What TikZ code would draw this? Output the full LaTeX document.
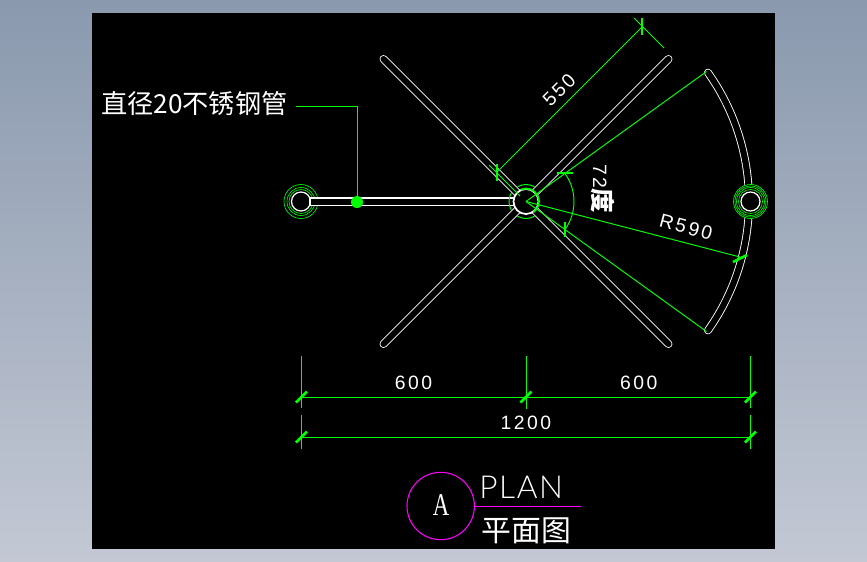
\documentclass[tikz,border=0pt]{standalone}
\usepackage{fontspec}
\usetikzlibrary{calc}
\setmainfont{Liberation Sans}
\newfontfamily\cjk{Noto Sans CJK SC}
\newfontfamily\dimfont[LetterSpace=13]{Liberation Sans}
\newfontfamily\planfont[LetterSpace=5]{Lato Light}
\newfontfamily\capfont{Liberation Serif}
\definecolor{cadgreen}{RGB}{0,255,0}
\definecolor{cadpink}{RGB}{255,0,255}
\definecolor{bgtop}{RGB}{138,153,174}
\definecolor{bgbottom}{RGB}{195,200,212}
\tikzset{
	cadline/.style={cadgreen,line width=0.55pt},
	cadring/.style={cadgreen,line width=0.35pt},
	tickmark/.style={cadgreen,line width=1.5pt},
	tube/.style={white,line width=0.5pt,double=black,double distance=3.5pt,line cap=round},
	dimtext/.style={white,font=\fontsize{11}{12}\selectfont\dimfont}
}
\begin{document}
\begin{tikzpicture}[x=0.02cm,y=0.02cm]
	\tikzstyle{every node}+=[inner sep=0pt]
	\shade [top color=bgtop,bottom color=bgbottom] (0,0) rectangle (867,-562);
	\fill [black] (92,-13) rectangle (775,-549);
	\coordinate (hub) at (526,-201.5);
	\coordinate (lefthub) at (301,-201.5);
	\coordinate (righthub) at (750.5,-201.5);
	\draw [tube] (hub) -- (668.5,-59);
	\draw [tube] (hub) -- (383.5,-59);
	\draw [tube] (hub) -- (383.5,-344);
	\draw [tube] (hub) -- (668.5,-344);
	\draw [tube] ($(hub)+(35.3:223)$) arc (35.3:-35.3:223);
	\fill [black] (lefthub) circle (17);
	\draw [white,line width=0.7pt] (lefthub) circle (9.5);
	\draw [cadring] (lefthub) circle (12);
	\draw [cadring] (lefthub) circle (14);
	\draw [cadring] (lefthub) circle (17);
	\draw [white,line width=0.6pt,fill=black] (310,-198) rectangle (514,-205.3);
	\fill [black] (hub) circle (13);
	\draw [white,line width=1pt] (hub) circle (12.5);
	\draw [cadgreen,line width=1pt] ($(hub)+(115:13)$) arc (115:-55:13);
	\draw [cadline] ($(hub)+(60:17)$) arc (60:120:17);
	\draw [cadline] ($(hub)+(240:17)$) arc (240:300:17);
	\draw [cadline] ($(hub)+(150:17)$) arc (150:210:17);
	\fill [black] (righthub) circle (17);
	\draw [white,line width=0.7pt] (righthub) circle (9.5);
	\draw [cadring] (righthub) circle (12);
	\draw [cadring] (righthub) circle (14);
	\draw [cadring] (righthub) circle (15.5);
	\draw [cadring] (righthub) circle (17);
	\node (pipelabel) [white,anchor=base west,font=\fontsize{14.9}{16}\selectfont\cjk] at (101,-113) {直径20不锈钢管};
	\coordinate (leaderstart) at (296,-106);
	\coordinate (leaderbend) at (357,-106);
	\coordinate (leaderdot) at (357,-202);
	\draw [cadline] (leaderstart) -- (leaderbend) -- (leaderdot);
	\fill [cadgreen] (leaderdot) circle (6);
	\draw [cadline] (489,-165) -- (520,-196);
	\draw [cadline] (634,-18) -- (664,-48);
	\draw [cadline] (497,-172) -- (642,-27);
	\draw [tickmark] (497,-164) -- (497,-181);
	\draw [tickmark] (642,-18) -- (642,-35);
	\node (len550) [dimtext,rotate=45] at (559,-90) {550};
	\draw [cadline] (hub) -- (706.5,-71.5);
	\draw [cadline] (hub) -- (706.5,-331.5);
	\draw [cadline] ($(hub)+(36:48)$) arc (36:-36:48);
	\draw [tickmark] (557,-173) -- (573,-173);
	\draw [tickmark] (565,-222) -- (565,-237);
	\node (angle72) [dimtext,rotate=-90,anchor=base west] at (593,-164) {72{\fontsize{14}{14}\selectfont\cjk\bfseries 度}};
	\draw [cadline] (hub) -- (740,-257);
	\draw [tickmark] (733,-262) -- (747,-255);
	\node (radius590) [dimtext,rotate=-15] at (686,-227) {R590};
	\draw [cadline] (301.5,-356) -- (301.5,-408);
	\draw [cadline] (526,-356) -- (526,-409);
	\draw [cadline] (750.5,-356) -- (750.5,-408);
	\draw [cadline] (301.5,-397.3) -- (750.5,-397.3);
	\draw [tickmark] (296,-402.5) -- (307,-391.5);
	\draw [tickmark] (520.5,-402.5) -- (531.5,-391.5);
	\draw [tickmark] (745,-402.5) -- (756,-391.5);
	\node (left600) [dimtext] at (413.5,-383) {600};
	\node (right600) [dimtext] at (638.7,-383) {600};
	\draw [cadline] (301.5,-415) -- (301.5,-449);
	\draw [cadline] (750.5,-415) -- (750.5,-449);
	\draw [cadline] (301.5,-437.3) -- (750.5,-437.3);
	\draw [tickmark] (296,-442.5) -- (307,-431.5);
	\draw [tickmark] (745,-442.5) -- (756,-431.5);
	\node (total1200) [dimtext] at (526,-422.7) {1200};
	\draw [cadpink,line width=0.6pt] (440.7,-506) circle (33.7);
	\draw [cadpink,line width=0.8pt] (474.4,-506.5) -- (581,-506.5);
	\node (sectionA) [white,xscale=0.72,font=\fontsize{18}{18}\selectfont\capfont] at (441,-505.5) {A};
	\node (plantext) [white,anchor=base west,font=\fontsize{18}{18}\selectfont\planfont] at (479,-498) {PLAN};
	\node (plancn) [white,anchor=base west,font=\fontsize{17}{18}\selectfont\cjk] at (481,-541) {平面图};
\end{tikzpicture}
\end{document}
